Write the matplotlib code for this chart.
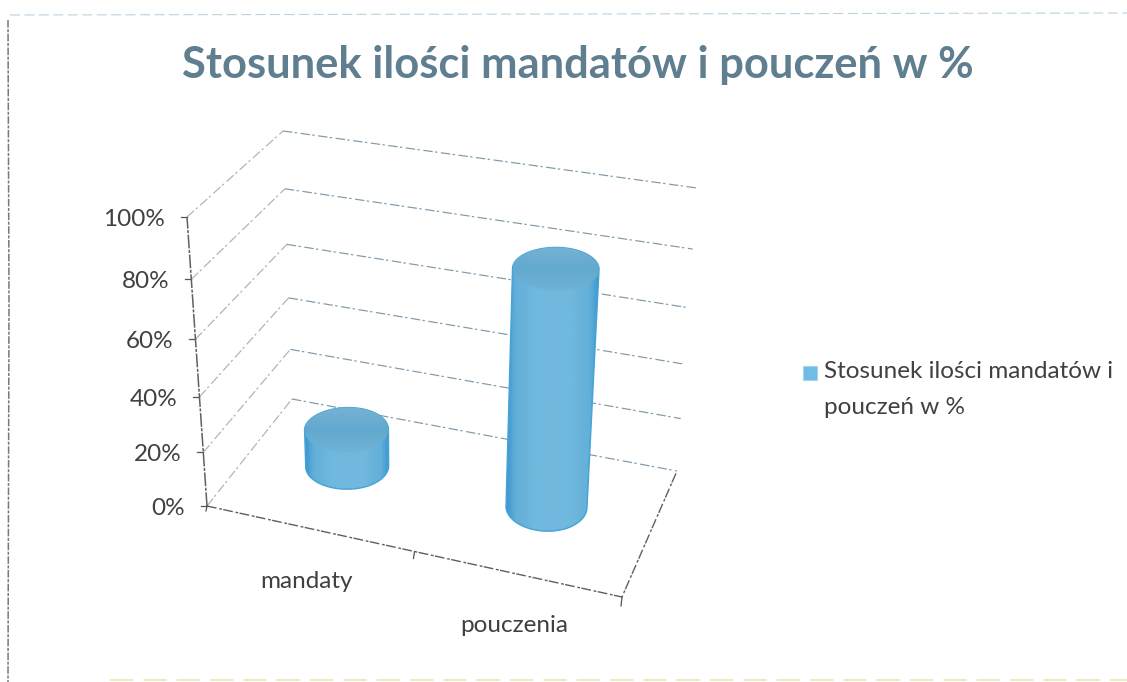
import numpy as np
import matplotlib
matplotlib.use("Agg")
import matplotlib.pyplot as plt
from matplotlib.colors import LinearSegmentedColormap
from matplotlib.patches import PathPatch, Rectangle
from matplotlib.path import Path

title = "Stosunek ilości mandatów i pouczeń w %"
categories = ["mandaty", "pouczenia"]
shares = [14, 84]
ticks = [0, 20, 40, 60, 80, 100]
legend_lines = ["Stosunek ilości mandatów i", "pouczeń w %"]

# chart box corners in pixels: front left, back left, back right, front right
floor = np.array([[207, 506], [292, 399], [677, 471], [622, 597]], dtype=float)
roof = np.array([[187, 217], [283, 131], [697, 188], [643, 297]], dtype=float)


def project(u, v, z):
    """u along the categories, v depth, z height, all 0..1"""
    u, v, z = np.asarray(u, float), np.asarray(v, float), np.asarray(z, float)
    # heights get a bit of perspective, upper gridlines sit further apart
    w = (z / (1 + 0.1 * (1 - z))).ravel()
    def plane(c):
        front = c[0][:, None] * (1 - u.ravel()) + c[3][:, None] * u.ravel()
        back = c[1][:, None] * (1 - u.ravel()) + c[2][:, None] * u.ravel()
        return front * (1 - v.ravel()) + back * v.ravel()
    return (plane(floor) * (1 - w) + plane(roof) * w).T


fig = plt.figure(figsize=(11.27, 6.82), dpi=100)
ax = fig.add_axes([0, 0, 1, 1])
ax.set_xlim(0, 1127)
ax.set_ylim(682, 0)
ax.axis("off")
plt.rcParams["font.family"] = ["Lato", "DejaVu Sans"]

# scanned page edges
ax.plot([8, 9, 8], [20, 300, 682], color="#77797c", lw=1.1, ls=(0, (5, 1, 2, 1)))
ax.plot([10, 1127], [15, 13], color="#b9d3e2", lw=0.8, ls=(0, (9, 4)))
ax.plot([110, 1127], [680, 680], color="#e8e6b8", lw=1.2, ls=(0, (14, 6)))

ax.text(578, 65, title, fontsize=31.3, fontweight="bold", color="#5f7f90",
        ha="center", va="center")

grid_style = dict(lw=0.85, ls=(0, (8, 2, 2, 3)), zorder=1)
for t in ticks:
    z = t / 100
    p = project([0, 0, 1], [0, 1, 1], [z, z, z])
    ax.plot(p[:2, 0], p[:2, 1], color="#a9b3b9", **grid_style)
    ax.plot(p[1:, 0], p[1:, 1], color="#7f98a8", **grid_style)
    ax.plot([p[0, 0] - 6, p[0, 0]], [p[0, 1], p[0, 1]], color="#555555", lw=0.9)
    ax.text(p[0, 0] - 22, p[0, 1] + 2.5, f"{t}%", fontsize=17.5, color="#404040",
            ha="right", va="center")

# axis and floor edges
edge = project([0, 0], [0, 0], [0, 1])
ax.plot(edge[:, 0], edge[:, 1], color="#5c6164", lw=1.1, ls=(0, (9, 1, 2, 1)), zorder=2)
front = project([0, 1, 1], [0, 0, 1], [0, 0, 0])
ax.plot(front[:, 0], front[:, 1], color="#5a6064", lw=1.0, ls=(0, (7, 2, 2, 1)), zorder=2)
for u, length in [(0, 5), (0.5, 7), (1, 9)]:
    p = project([u], [0], [0])[0]
    ax.plot([p[0], p[0] - 1], [p[1], p[1] + length], color="#555555", lw=0.9, zorder=2)

# cylinders
side_cmap = LinearSegmentedColormap.from_list(
    "side", [(0, "#3d97cf"), (0.1, "#62afd9"), (0.3, "#70b8dd"), (0.7, "#70b8dd"),
             (0.9, "#62afd9"), (1, "#3a95d0")])
top_cmap = LinearSegmentedColormap.from_list(
    "top", ["#74b2d3", "#62a9cf", "#6fb3d6"])
t = np.linspace(0, 2 * np.pi, 121)
for i, share in enumerate(shares):
    uc = (i + 0.5) / len(shares) - 0.015
    u = uc + 0.097 * np.cos(t)
    v = 0.55 + 0.194 * np.sin(t)
    low = project(u, v, np.zeros_like(t))
    high = project(u, v, np.full_like(t, share / 100))
    lx0, lx1 = low[:, 0].argmin(), low[:, 0].argmax()
    hx0, hx1 = high[:, 0].argmin(), high[:, 0].argmax()
    # lower half of the bottom ellipse, upper half of the top one
    lower = low[low[:, 1] >= (low[lx0, 1] + low[lx1, 1]) / 2]
    lower = lower[np.argsort(lower[:, 0])]
    upper = high[high[:, 1] <= (high[hx0, 1] + high[hx1, 1]) / 2]
    upper = upper[np.argsort(upper[:, 0])[::-1]]
    body = np.vstack([lower, upper, lower[:1]])
    extent = [body[:, 0].min(), body[:, 0].max(), body[:, 1].max(), body[:, 1].min()]
    ramp = np.linspace(0, 1, 64)[None, :]
    outline = PathPatch(Path(body), fc="none", ec="#46a3d6", lw=1.0, zorder=5)
    ax.add_patch(outline)
    im = ax.imshow(ramp, cmap=side_cmap, extent=extent, aspect="auto", zorder=4)
    im.set_clip_path(PathPatch(Path(body), transform=ax.transData))
    cap = Path(np.vstack([high, high[:1]]))
    cx = [high[:, 0].min(), high[:, 0].max(), high[:, 1].max(), high[:, 1].min()]
    im2 = ax.imshow(np.linspace(0, 1, 32)[:, None], cmap=top_cmap, extent=cx,
                    aspect="auto", zorder=6)
    im2.set_clip_path(PathPatch(cap, transform=ax.transData))
ax.set_xlim(0, 1127)
ax.set_ylim(682, 0)

ax.text(307, 581, categories[0], fontsize=17.5, color="#404040", ha="center", va="center")
ax.text(514, 625, categories[1], fontsize=17.5, color="#404040", ha="center", va="center")

ax.add_patch(Rectangle((803, 366), 14, 14, fc="#6fbde3", ec="#a5d5ec", lw=0.8))
ax.text(824, 372, legend_lines[0], fontsize=17.5, color="#404040", va="center")
ax.text(824, 408, legend_lines[1], fontsize=17.5, color="#404040", va="center")

fig.savefig("out.png", dpi=100)
